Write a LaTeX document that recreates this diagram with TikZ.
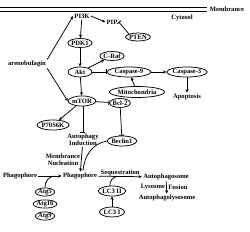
\documentclass[tikz,border=0pt]{standalone}
\usepackage{fontspec}
\setmainfont{Liberation Serif}
\usetikzlibrary{shapes.geometric,arrows.meta,calc}
\begin{document}
\begin{tikzpicture}[x=1pt,y=-1pt,
  font=\fontsize{6.6}{7}\selectfont\bfseries,
  every path/.style={line width=0.75pt},
  ell/.style={ellipse,draw,line width=0.75pt,inner sep=0pt},
  lbl/.style={inner sep=1pt,align=center},
  act/.style={-{Stealth[length=3.4pt,width=3pt]}},
  inh/.style={-{Bar[width=5pt,line width=0.85pt]}},
  ]
\useasboundingbox (0,0) rectangle (250,232);
% membrane
\draw[line width=0.9pt] (0,7) coordinate (m1) -- (207,7) coordinate (m2);
\draw[line width=0.9pt] (0,11) coordinate (m3) -- (207,11) coordinate (m4);
\node[lbl] (membrane) at (227,9) {Membrance};
\node[lbl] (cytosol) at (182,18) {Cytosol};
% nodes
\node[lbl] (pi3k) at (82,16) {PI3K};
\node[lbl] (pip) at (112,22) {PIP};
\node[ell,minimum width=19pt,minimum height=8pt] (pten) at (138,37) {PTEN};
\node[lbl] (areno) at (27,64) {arenobufagin};
\node[ell,minimum width=21pt,minimum height=9pt] (pdk1) at (80,43) {PDK1};
\node[ell,minimum width=24pt,minimum height=10pt] (akt) at (80,72) {Akt};
\node[ell,minimum width=23pt,minimum height=9pt] (craf) at (112,56) {C-Raf};
\node[ell,minimum width=44pt,minimum height=10pt] (casp9) at (129,72) {Caspase-9};
\node[ell,minimum width=40pt,minimum height=10pt] (casp3) at (187,72) {Caspase-3};
\node[ell,minimum width=50pt,minimum height=11pt] (mito) at (137,92) {Mitochondria};
\node[lbl] (apop) at (187,97) {Apoptosis};
\node[ell,minimum width=27pt,minimum height=10pt] (mtor) at (82,101) {mTOR};
\node[ell,minimum width=20pt,minimum height=9pt] (bcl2) at (120,103) {Bcl-2};
\node[ell,minimum width=29pt,minimum height=10pt] (p70) at (53,125) {P70S6K};
\node[lbl] (autoind) at (83,140) {Autophagy\\Induction};
\node[ell,minimum width=25pt,minimum height=10pt] (beclin) at (122,141) {Beclin1};
\node[lbl] (memnuc) at (63,160) {Membrance\\Nucleation};
\node[lbl] (phl) at (20,176) {Phagophore};
\node[lbl] (phr) at (80,176) {Phagophore};
\node[ell,minimum width=16pt,minimum height=8pt] (atg5) at (45,192) {Atg5};
\node[ell,minimum width=16pt,minimum height=8pt] (atg16) at (45,204) {Atg16};
\node[ell,minimum width=16pt,minimum height=8pt] (atg9) at (45,216) {Atg9};
\node[ell,minimum width=25pt,minimum height=10pt] (lc3ii) at (112,191) {LC3 II};
\node[ell,minimum width=25pt,minimum height=10pt] (lc3i) at (112,212) {LC3 I};
\node[lbl] (aphs) at (166,177) {Autophagosome};
\node[lbl] (lyso) at (153,187) {Lysosme};
\node[lbl] (fusion) at (178,187) {Fusion};
\node[lbl] (aply) at (167,198) {Autophagolysosome};
% connectors
\draw[act] (pi3k.east) -- (pip.west);
\draw[inh] (pten.north west) -- (pip.east);
\draw[act] (areno.north east) -- (pi3k.west);
\draw[act] (areno.south east) -- (mtor.west);
\draw[act] (pi3k) -- (pdk1);
\draw[act] (pdk1) -- (akt);
\draw[act] (akt) -- (mtor);
\draw[act] (akt) -- (craf);
\draw[inh] (akt) -- (casp9);
\draw[act] (casp9) -- (casp3);
\draw[act] (mito) -- (casp9);
\draw[act] (casp3) -- (apop);
\draw[inh] (mtor) -- (bcl2);
\draw[act] (mtor) -- (p70);
\draw[inh] (mtor.south) ++(1,0) coordinate (mts) -- (mts |- autoind.north);
\draw[inh] (bcl2) -- (beclin);
\draw[act] (autoind) -- (phr);
\coordinate (bj) at ($(phr.north)+(3,-1)$);
\draw (beclin.west) to[out=190,in=85] (bj);
\draw[act] (phl) -- (phr);
\coordinate (aj) at ($(phl.east)!0.72!(phr.west)$);
\draw (atg5.north) to[out=95,in=180] (aj);
\draw[act] (phr) -- node[lbl,above=-0.5pt] (seq) {Sequestration} (aphs);
\coordinate (lj) at ($(phr.east)!0.45!(aphs.west)$);
\draw (lc3ii.north) ++(-2,0.3) to[out=100,in=180] (lj);
\draw[act] (lc3i) -- (lc3ii);
\draw[act] (aphs) -- (aply);
\end{tikzpicture}
\end{document}
